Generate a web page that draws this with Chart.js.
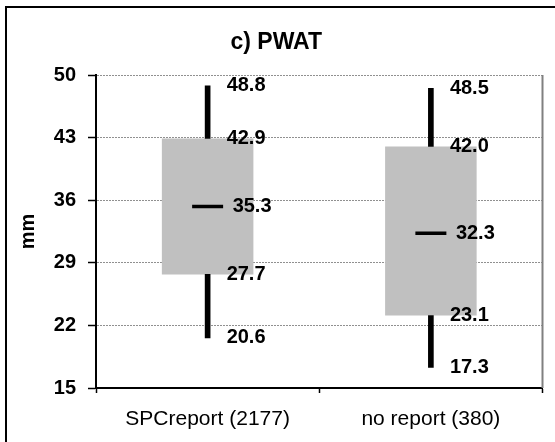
<!DOCTYPE html>
<html>
<head>
<meta charset="utf-8">
<script src="https://cdn.jsdelivr.net/npm/chart.js@4.4.1/dist/chart.umd.min.js"></script>
<style>
  html, body { margin: 0; padding: 0; background: #fff; }
  #wrap { width: 555px; height: 442px; }
</style>
</head>
<body>
<div id="wrap"><canvas id="pwatChart" width="555" height="442"></canvas></div>
<script>
// box plot stats (mm)
const categories = ['SPCreport (2177)', 'no report (380)'];
const minVals = [20.6, 17.3];
const q1Vals = [27.7, 23.1];
const medianVals = [35.3, 32.3];
const q3Vals = [42.9, 42.0];
const maxVals = [48.8, 48.5];
const yTicks = [15, 22, 29, 36, 43, 50];

const FONT = '"Liberation Sans", Arial, sans-serif';

// outer chart frame + grey right edge of the plot
const framePlugin = {
  id: 'frame',
  beforeDraw(chart) {
    const ctx = chart.ctx;
    ctx.save();
    ctx.strokeStyle = '#000';
    ctx.lineWidth = 2;
    ctx.beginPath();
    ctx.moveTo(6, 450);
    ctx.lineTo(6, 7);
    ctx.lineTo(560, 7);
    ctx.stroke();
    ctx.restore();
  },
  afterDraw(chart) {
    const a = chart.chartArea;
    const ctx = chart.ctx;
    ctx.save();
    ctx.strokeStyle = '#808080';
    ctx.lineWidth = 2;
    ctx.beginPath();
    ctx.moveTo(a.right, a.top);
    ctx.lineTo(a.right, a.bottom);
    ctx.stroke();
    ctx.restore();
  }
};

// numbers beside whisker ends, quartiles and median
const valueLabels = {
  id: 'valueLabels',
  afterDatasetsDraw(chart) {
    const ctx = chart.ctx;
    const x = chart.scales.x, y = chart.scales.y;
    ctx.save();
    ctx.fillStyle = '#000';
    ctx.font = 'bold 20px ' + FONT;
    ctx.textAlign = 'left';
    ctx.textBaseline = 'middle';
    categories.forEach((c, i) => {
      const cx = x.getPixelForValue(i);
      [minVals[i], q1Vals[i], q3Vals[i], maxVals[i]].forEach(v => {
        ctx.fillText(v.toFixed(1), cx + 19, y.getPixelForValue(v));
      });
      ctx.fillText(medianVals[i].toFixed(1), cx + 25, y.getPixelForValue(medianVals[i]));
    });
    ctx.restore();
  }
};

const boxData = categories.map((c, i) => [q1Vals[i], q3Vals[i]]);
const lowWhisker = categories.map((c, i) => [minVals[i], q1Vals[i]]);
const highWhisker = categories.map((c, i) => [q3Vals[i], maxVals[i]]);

new Chart(document.getElementById('pwatChart'), {
  type: 'bar',
  data: {
    labels: categories,
    datasets: [
      { label: 'IQR', data: boxData, backgroundColor: '#c0c0c0', barPercentage: 0.41, categoryPercentage: 1, grouped: false, order: 3 },
      { label: 'low', data: lowWhisker, backgroundColor: '#000', barThickness: 5, grouped: false, order: 2 },
      { label: 'high', data: highWhisker, backgroundColor: '#000', barThickness: 5, grouped: false, order: 2 },
      {
        type: 'line', label: 'median', data: medianVals, showLine: false,
        pointStyle: 'line', pointRadius: 15.5, pointHoverRadius: 15.5,
        borderColor: '#000', pointBorderWidth: 3.5, order: 1
      }
    ]
  },
  options: {
    responsive: false,
    animation: false,
    events: [],
    layout: { autoPadding: false, padding: { left: 10, right: 12.5, top: 0, bottom: 0 } },
    plugins: {
      legend: { display: false },
      tooltip: { enabled: false },
      title: {
        display: true, text: 'c) PWAT', color: '#000',
        font: { family: FONT, size: 23, weight: 'bold' },
        padding: { top: 29, bottom: 18.4 }
      }
    },
    scales: {
      x: {
        offset: true,
        afterFit(scale) { scale.height = 54; },
        grid: { drawOnChartArea: false, drawTicks: true, offset: true, tickLength: 5, tickColor: '#000', tickWidth: 1.5 },
        border: { color: '#000', width: 2 },
        ticks: { color: '#000', font: { family: FONT, size: 21 }, padding: 14, maxRotation: 0, autoSkip: false }
      },
      y: {
        min: 15, max: 50,
        afterFit(scale) { scale.width = 86; },
        afterBuildTicks(scale) { scale.ticks = yTicks.map(v => ({ value: v })); },
        title: { display: true, text: 'mm', color: '#000', font: { family: FONT, size: 20, weight: 'bold' }, padding: { top: 6, bottom: 0 } },
        grid: { color: '#909090', lineWidth: 1, drawTicks: true, tickLength: 8, tickColor: '#000', tickWidth: 1.5, tickBorderDash: [] },
        border: { color: '#000', width: 2, dash: [2, 1] },
        ticks: { color: '#000', font: { family: FONT, size: 20, weight: 'bold' }, padding: 12 }
      }
    }
  },
  plugins: [framePlugin, valueLabels]
});
</script>
</body>
</html>
